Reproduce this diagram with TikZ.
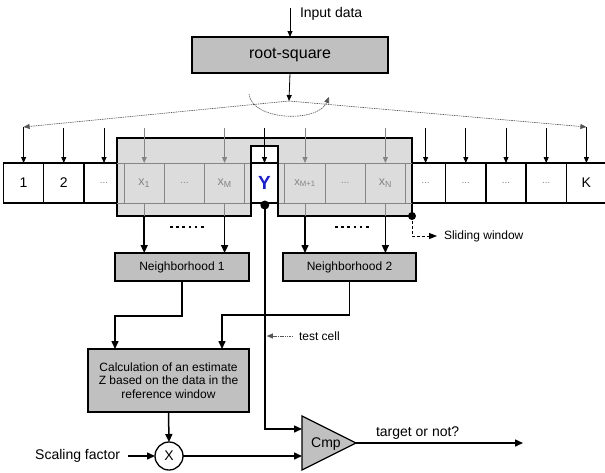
\documentclass[tikz,border=0pt]{standalone}
\usepackage{fontspec}
\setmainfont{Liberation Sans}
\usetikzlibrary{arrows.meta}
\definecolor{boxgray}{HTML}{C0C0C0}
\definecolor{wingray}{HTML}{DCDCDC}
\definecolor{cellgray}{HTML}{858585}
\definecolor{ytext}{HTML}{1C1CC8}
\definecolor{dashgray}{HTML}{555555}
\begin{document}
\begin{tikzpicture}[x=1pt,y=-1pt,
  every node/.style={inner sep=0pt, outer sep=0pt},
  wcell/.style={draw=black, line width=1.3pt, fill=white, minimum width=40.2pt, minimum height=40pt, font=\fontsize{14}{16}\selectfont},
  gcell/.style={draw=cellgray, line width=1pt, minimum width=40.2pt, minimum height=40pt, text=cellgray, font=\fontsize{12.5}{14}\selectfont},
  wdots/.style={text=cellgray, font=\fontsize{10}{12}\selectfont},
  graybox/.style={draw=black, line width=1.3pt, fill=boxgray, font=\fontsize{12}{14}\selectfont},
  bigarrow/.style={line width=1.5pt, -{Triangle[length=8pt,width=7pt]}},
  thinarrow/.style={line width=0.8pt, -{Triangle[length=6pt,width=5pt]}},
  grayarrow/.style={draw=cellgray, line width=0.8pt, -{Triangle[length=6pt,width=5pt]}},
  dashline/.style={draw=dashgray, line width=0.6pt, dash pattern=on 1.5pt off 0.8pt},
  lbl/.style={font=\fontsize{12}{14}\selectfont},
  lblbig/.style={font=\fontsize{14}{16}\selectfont},
  dotrow/.style={line width=2.6pt, dash pattern=on 2.6pt off 3.6pt}
]
\useasboundingbox (0,0) rectangle (605,472);

% input and root-square
\coordinate (inp) at (290,8);
\node[graybox, minimum width=196pt, minimum height=36pt, font=\fontsize{16}{18}\selectfont] (root) at (290,55) {root-square};
\node[lblbig, anchor=west] (inlab) at (300,14) {Input data};
\draw[thinarrow] (inp) -- (root.north);
\coordinate (split) at (289,101);
\draw[thinarrow] (root.south) -- (split);

% white cells
\node[wcell] (c1) at (23.6,183) {1};
\node[wcell] (c2) at (63.8,183) {2};
\node[wcell] (c3) at (104.0,183) {\color{cellgray}\fontsize{10}{12}\selectfont ...};
\node[wcell] (c11) at (425.6,183) {\color{cellgray}\fontsize{10}{12}\selectfont ...};
\node[wcell] (c12) at (465.8,183) {\color{cellgray}\fontsize{10}{12}\selectfont ...};
\node[wcell] (c13) at (506.0,183) {\color{cellgray}\fontsize{10}{12}\selectfont ...};
\node[wcell] (c14) at (546.2,183) {\color{cellgray}\fontsize{10}{12}\selectfont ...};
\node[wcell] (c15) at (586.4,183) {K};

% sliding window
\draw[fill=wingray, line width=1.5pt] (117,138) -- (412,138) -- (412,216) -- (278,216) -- (278,146) -- (251,146) -- (251,216) -- (117,216) -- cycle;
\draw[cellgray, line width=1pt] (117,163) -- (251,163) (117,203) -- (251,203) (278,163) -- (412,163) (278,203) -- (412,203);

% gray cells
\node[gcell] (c4) at (144.2,183) {x\textsubscript{1}};
\node[gcell] (c5) at (184.4,183) {\fontsize{10}{12}\selectfont ...};
\node[gcell] (c6) at (224.6,183) {x\textsubscript{M}};
\node[gcell, font=\fontsize{11}{13}\selectfont] (c8) at (305.0,183) {x\textsubscript{M+1}};
\node[gcell] (c9) at (345.2,183) {\fontsize{10}{12}\selectfont ...};
\node[gcell] (c10) at (385.4,183) {x\textsubscript{N}};

% test cell Y
\node[draw=black, line width=1.3pt, minimum width=27pt, minimum height=40pt, text=ytext, font=\fontsize{19}{21}\selectfont\bfseries] (c7) at (264.5,183) {Y};

% distribution arrows
\coordinate (toprow) at (0,128);
\coordinate (dl) at (23.6,127);
\coordinate (dr) at (586.4,127);
\draw[dashline, -{Triangle[length=6pt,width=5pt]}] (split) -- (dl);
\draw[dashline, -{Triangle[length=6pt,width=5pt]}] (split) -- (dr);
\draw[dashline, -{Triangle[length=6pt,width=5pt]}] (249,94) .. controls (252,121) and (318,123) .. (329,97);
\draw[thinarrow] (dl) -- (c1.north);
\draw[thinarrow] (dr) -- (c15.north);
\foreach \c in {c2,c3,c11,c12,c13,c14} \draw[thinarrow] (\c.north |- toprow) -- (\c.north);
\foreach \c in {c4,c6,c8,c10} \draw[grayarrow] (\c.north |- toprow) -- (\c.north);
\draw[thinarrow] (c7.north |- toprow) -- (c7.north);

% neighborhoods
\node[graybox, minimum width=134pt, minimum height=28pt] (n1) at (182,267) {Neighborhood 1};
\node[graybox, minimum width=133pt, minimum height=28pt] (n2) at (349.5,267) {Neighborhood 2};
\coordinate (winbot) at (0,216);
\foreach \c/\n in {c4/n1,c6/n1,c8/n2,c10/n2} {
  \draw[cellgray, line width=1pt] (\c.south) -- (\c.south |- winbot);
  \draw[bigarrow] (\c.south |- winbot) -- (\c.south |- \n.north);
}
\draw[dotrow] (170,227) -- (206,227);
\draw[dotrow] (335,227) -- (371,227);

% sliding window marker
\node[circle, fill=black, minimum size=8pt] (wdot) at (412,216) {};
\node[lbl, anchor=west] (swlab) at (444,236) {Sliding window};
\coordinate (swtip) at (437,236);
\draw[line width=1pt, dash pattern=on 3pt off 2pt, -{Triangle[length=8pt,width=6pt]}] (wdot.center) |- (swtip);

% estimate
\node[graybox, minimum width=161pt, minimum height=63pt, align=center, font=\fontsize{12}{13.6}\selectfont] (calc) at (168.5,380.5) {Calculation of an estimate\\Z based on the data in the\\reference window};
\coordinate (k1) at (115,316);
\coordinate (k2) at (222,315);
\draw[bigarrow] (n1.south) |- (k1) -- (k1 |- calc.north);
\draw[bigarrow] (n2.south) |- (k2) -- (k2 |- calc.north);

% multiplier and comparator
\node[circle, draw=black, line width=1.3pt, minimum size=28pt, lblbig] (mult) at (169,456) {X};
\node[lblbig, anchor=east] (sf) at (120,456) {Scaling factor};
\draw[bigarrow] ([xshift=8pt]sf.east) -- (mult.west);
\draw[bigarrow] (calc.south) -- (mult.north);

\coordinate (cmpin1) at (302,429);
\coordinate (cmpin2) at (302,456);
\coordinate (cmpout) at (356,443);
\draw[line width=1.3pt, fill=boxgray] (302,416) -- (cmpout) -- (302,470) -- cycle;
\node[lblbig] (cmp) at (326,444) {Cmp};
\draw[bigarrow] (mult.east) -- (cmpin2);

\node[circle, fill=black, minimum size=9pt] (ydot) at (264.8,205) {};
\draw[bigarrow] (ydot.center) |- (cmpin1);
\node[lbl, anchor=west] (tc) at (299,336) {test cell};
\draw[dashline, -{Triangle[length=6pt,width=5pt]}] ([xshift=-6pt]tc.west) -- ([xshift=2pt]ydot.center |- tc.west);

\coordinate (outend) at (523,443);
\draw[bigarrow] (cmpout) -- (outend);
\node[lblbig, anchor=west] (tgt) at (376,433) {target or not?};
\end{tikzpicture}
\end{document}
